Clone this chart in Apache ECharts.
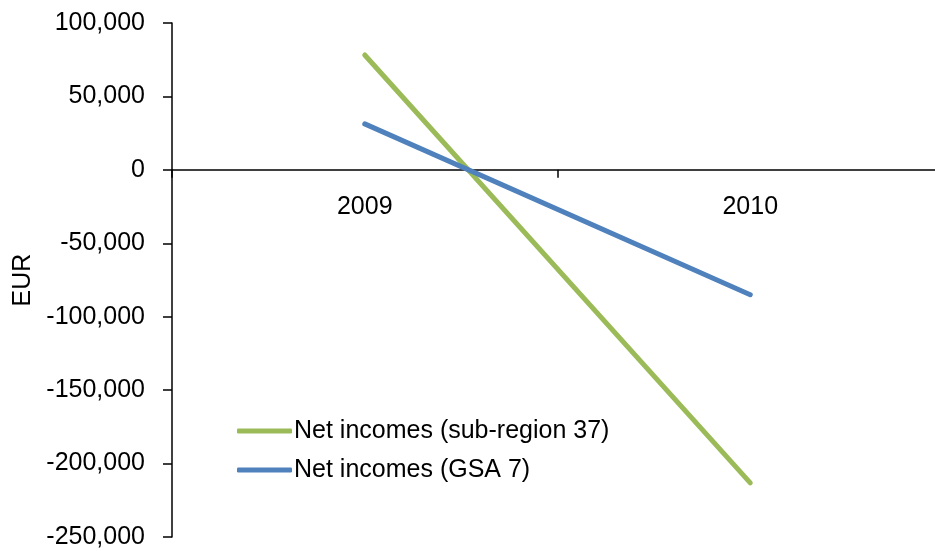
<!DOCTYPE html>
<html>
<head>
<meta charset="utf-8">
<script src="https://cdn.jsdelivr.net/npm/echarts@6/dist/echarts.min.js"></script>
<style>
  html, body { margin: 0; padding: 0; background: #fff; }
  #chart { width: 935px; height: 551px; }
</style>
</head>
<body>
<div id="chart"></div>
<script>
// Net incomes per year, in EUR
const years = ['2009', '2010'];
const subRegion37 = [78200, -213100];
const gsa7 = [31300, -85000];
const seriesNames = ['Net incomes (sub-region 37)', 'Net incomes (GSA 7)'];
const yMin = -250000;
const yMax = 100000;
const yStep = 50000;

const FONT = '"Liberation Sans", Arial, sans-serif';
const GRID_TOP = 23;
const GRID_BOTTOM = 14;
const HEIGHT = 551;
// Pixel distance from the top of the plot to the zero line: the category
// axis is placed at the top and pulled down onto y = 0.
const plotH = HEIGHT - GRID_TOP - GRID_BOTTOM;
const zeroOffset = plotH * (yMax - 0) / (yMax - yMin);

const chart = echarts.init(document.getElementById('chart'));

chart.setOption({
  animation: false,
  backgroundColor: '#ffffff',
  textStyle: { fontFamily: FONT },
  grid: { left: 172, right: -8, top: GRID_TOP, bottom: GRID_BOTTOM, containLabel: false, outerBoundsMode: 'none' },
  legend: {
    orient: 'vertical',
    left: 232,
    top: 411,
    icon: 'roundRect',
    itemWidth: 55,
    itemHeight: 5,
    itemGap: 9,
    data: seriesNames,
    textStyle: { fontFamily: FONT, fontSize: 25, color: '#000', lineHeight: 30, padding: [0, 0, 0, -3] }
  },
  xAxis: {
    type: 'category',
    data: years,
    boundaryGap: true,
    position: 'top',
    offset: -zeroOffset,
    axisLine: { onZero: false, lineStyle: { color: '#000', width: 1.5 } },
    axisTick: { show: true, inside: true, length: 8, lineStyle: { color: '#000', width: 1.5 } },
    axisLabel: { inside: true, margin: 25, fontSize: 25, color: '#000', fontFamily: FONT },
    splitLine: { show: false }
  },
  yAxis: {
    type: 'value',
    min: yMin,
    max: yMax,
    interval: yStep,
    name: 'EUR',
    nameLocation: 'middle',
    nameRotate: 90,
    nameGap: 123,
    nameTextStyle: { fontSize: 25, color: '#000', fontFamily: FONT },
    axisLine: { show: true, lineStyle: { color: '#000', width: 1.5 } },
    axisTick: { show: true, length: 9, lineStyle: { color: '#000', width: 1.5 } },
    axisLabel: {
      margin: 27,
      fontSize: 25,
      color: '#000',
      fontFamily: FONT,
      formatter: v => v.toLocaleString('en-US')
    },
    splitLine: { show: false }
  },
  series: [
    {
      name: seriesNames[0],
      type: 'line',
      data: subRegion37,
      symbol: 'none',
      color: '#9BBB59',
      lineStyle: { width: 5, color: '#9BBB59', cap: 'round' }
    },
    {
      name: seriesNames[1],
      type: 'line',
      data: gsa7,
      symbol: 'none',
      color: '#4F81BD',
      lineStyle: { width: 5, color: '#4F81BD', cap: 'round' }
    }
  ]
});
</script>
</body>
</html>
